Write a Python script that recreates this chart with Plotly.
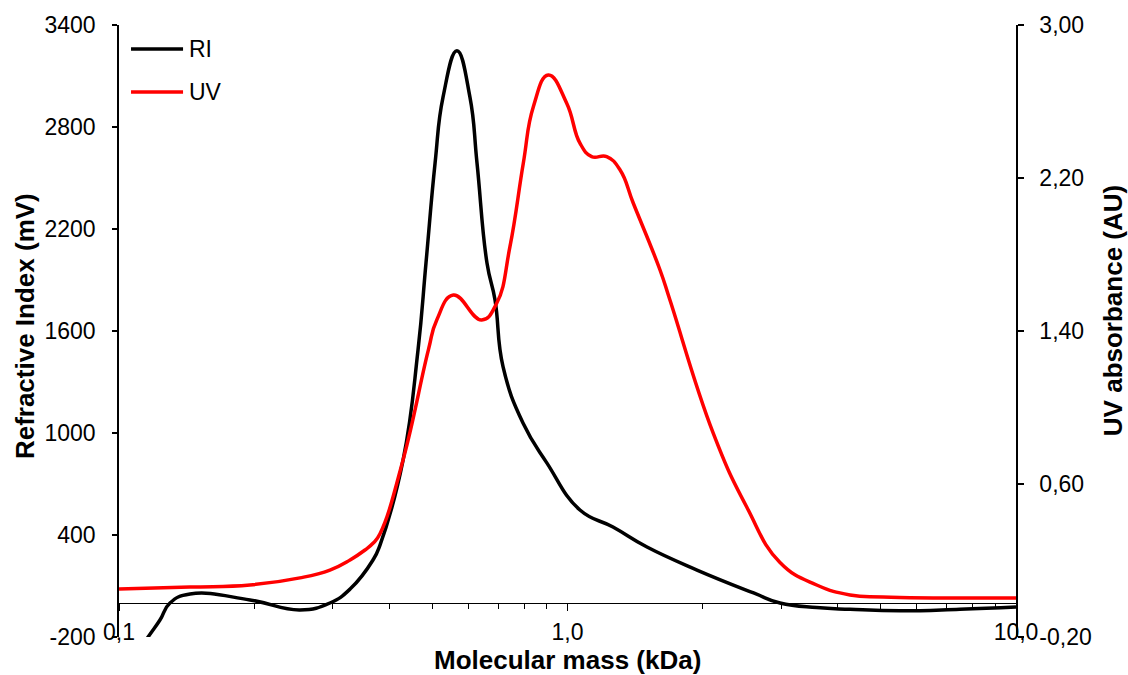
import plotly.graph_objects as go

# ---------------- data ----------------
mass_ri = [0.100, 0.1161, 0.1234, 0.1299, 0.1440, 0.1959, 0.2532, 0.2953, 0.3275,
           0.3684, 0.3819, 0.4299, 0.4642, 0.4836, 0.5067, 0.5278, 0.5669, 0.6060,
           0.6284, 0.6614, 0.6893, 0.7182, 0.7957, 0.9000, 1.066, 1.263, 1.504,
           1.944, 2.600, 2.977, 3.594, 4.265, 5.512, 7.5, 10.0]
ri = [-450, -200, -100, 0, 53, 18, -41, 0, 82,
      253, 341, 841, 1488, 2000, 2588, 2976, 3249, 2976,
      2588, 2000, 1782, 1390, 1059, 823, 547, 447, 329,
      194, 59, 0, -27, -37, -46, -37, -24]

mass_uv = [0.100, 0.1440, 0.1959, 0.2532, 0.2953, 0.3275, 0.3536, 0.3684, 0.3819, 0.4299,
           0.4896, 0.5111, 0.5566, 0.6437, 0.6952, 0.7442, 0.7970, 0.8392, 0.9063,
           0.9959, 1.066, 1.132, 1.223, 1.310, 1.402, 1.608, 1.692, 2.114, 2.508,
           2.977, 3.594, 4.265, 5.051, 10.0]
uv = [0.051, 0.061, 0.072, 0.109, 0.150, 0.203, 0.255, 0.290, 0.340, 0.726,
      1.301, 1.458, 1.588, 1.458, 1.545, 1.841, 2.277, 2.573, 2.739,
      2.591, 2.382, 2.312, 2.312, 2.242, 2.068, 1.719, 1.562, 0.865, 0.481,
      0.190, 0.072, 0.020, 0.009, 0.004]

x_tickvals = [0.1, 1, 10]
x_ticktext = ["0,1", "1,0", "10,0"]
x_minor = [0.2, 0.3, 0.4, 0.5, 0.6, 0.7, 0.8, 0.9, 2, 3, 4, 5, 6, 7, 8, 9]
y1_tickvals = [-200, 400, 1000, 1600, 2200, 2800, 3400]
y1_ticktext = ["-200", "400", "1000", "1600", "2200", "2800", "3400"]
y2_tickvals = [-0.2, 0.6, 1.4, 2.2, 3.0]
y2_ticktext = ["-0,20", "0,60", "1,40", "2,20", "3,00"]

series_names = ["RI", "UV"]
series_colors = ["#000000", "#ff0000"]

FONT = "Liberation Sans, Arial, sans-serif"

fig = go.Figure()
fig.add_trace(go.Scatter(x=mass_ri, y=ri, mode="lines", name=series_names[0],
                         line=dict(color=series_colors[0], width=3.5, shape="spline", smoothing=1.3),
                         yaxis="y"))
fig.add_trace(go.Scatter(x=mass_uv, y=uv, mode="lines", name=series_names[1],
                         line=dict(color=series_colors[1], width=3.5, shape="spline", smoothing=1.3),
                         yaxis="y2"))

fig.update_layout(
    width=1128, height=675,
    margin=dict(l=119, r=112, t=25, b=38, autoexpand=False),
    plot_bgcolor="white", paper_bgcolor="white",
    showlegend=False,
    font=dict(family=FONT, size=23, color="black"),
    xaxis=dict(type="log", range=[-1, 1], anchor="free", position=200 / 3600,
               showline=True, linecolor="black", linewidth=1,
               ticks="outside", ticklen=7, tickwidth=1, tickcolor="black",
               tickvals=x_tickvals, ticktext=x_ticktext, ticklabelstandoff=1,
               showgrid=False, zeroline=False,
               minor=dict(ticks="outside", ticklen=5, tickwidth=1, tickcolor="black",
                          tickvals=x_minor, showgrid=False)),
    yaxis=dict(range=[-200, 3400], showline=True, linecolor="black", linewidth=1.5,
               ticks="outside", ticklen=5, tickwidth=1.5, tickcolor="black",
               tickvals=y1_tickvals, ticktext=y1_ticktext, ticklabelstandoff=12,
               showgrid=False, zeroline=False),
    yaxis2=dict(range=[-0.2, 3.0], overlaying="y", side="right",
                showline=True, linecolor="black", linewidth=1.5,
                ticks="outside", ticklen=6, tickwidth=1.5, tickcolor="black",
                tickvals=y2_tickvals, ticktext=y2_ticktext, ticklabelstandoff=11,
                showgrid=False, zeroline=False),
)

# axis titles
title_font = dict(family=FONT, size=26, color="black")
fig.add_annotation(text="<b>Molecular mass (kDa)</b>", xref="paper", yref="paper",
                   x=0.5, y=-0.037, xanchor="center", yanchor="middle",
                   showarrow=False, font=title_font)
fig.add_annotation(text="<b>Refractive Index (mV)</b>", xref="paper", yref="paper",
                   x=-0.1048, y=0.508, xanchor="center", yanchor="middle", textangle=-90,
                   showarrow=False, font=title_font)
fig.add_annotation(text="<b>UV absorbance (AU)</b>", xref="paper", yref="paper",
                   x=1.1081, y=0.534, xanchor="center", yanchor="middle", textangle=-90,
                   showarrow=False, font=title_font)

# legend (drawn manually to match the long sample lines)
leg_y = [0.9608, 0.8905]
for name, col, yy in zip(series_names, series_colors, leg_y):
    fig.add_shape(type="line", xref="paper", yref="paper", x0=0.0134, x1=0.0714,
                  y0=yy, y1=yy, line=dict(color=col, width=3.5))
    fig.add_annotation(text=name, xref="paper", yref="paper", x=0.0758, y=yy,
                       xanchor="left", yanchor="middle", showarrow=False,
                       font=dict(family=FONT, size=23, color="black"))

fig.write_html("out.html")
